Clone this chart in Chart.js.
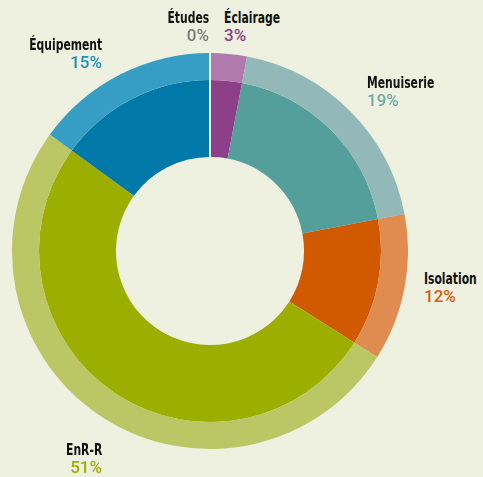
<!DOCTYPE html>
<html>
<head>
<meta charset="utf-8">
<script src="https://cdn.jsdelivr.net/npm/chart.js@4.4.0/dist/chart.umd.min.js"></script>
<style>
  body { margin:0; background:#eff1e0; width:483px; height:477px; overflow:hidden; position:relative; }
  #wrap { position:absolute; left:12px; top:53px; width:396px; height:396px; }
  .lbl { position:absolute; white-space:nowrap; }
  .lbl .nom { display:block; font-family:"DejaVu Sans Condensed","Liberation Sans Narrow",sans-serif; font-weight:bold; font-size:15px; line-height:17px; height:17px; color:#111; transform:scaleX(0.8); }
  .lbl .pct { display:block; font-family:Roboto,sans-serif; font-weight:500; font-size:17px; line-height:17px; height:17px; }
</style>
</head>
<body>
<div id="wrap"><canvas id="chartDepenses"></canvas></div>
<script>
// Données (sens horaire depuis le haut)
const categories = ['Éclairage', 'Menuiserie', 'Isolation', 'EnR-R', 'Équipement', 'Études'];
const pourcentages = [3, 19, 12, 51, 15, 0];

// Couleurs : anneau intérieur foncé, anneau extérieur clair
const couleursFoncees = ['#8e3f8a', '#549e9c', '#d15a00', '#9caf00', '#0078a8', '#808080'];
const couleursClaires = ['#b07aae', '#92b9b8', '#e08c50', '#bac764', '#369ec4', '#a0a0a0'];
const couleursTexte   = ['#8e3f8a', '#6fa9a8', '#d0600c', '#9caf00', '#1e8dc0', '#7a7a7a'];

// Position des étiquettes : [x, ligne de base du nom, alignement]
const posEtiquettes = [
  [224, 23, 'left'],
  [367, 88, 'left'],
  [424, 284, 'left'],
  [102, 455, 'right'],
  [102, 50, 'right'],
  [209, 23, 'right']
];

// Étiquettes HTML
categories.forEach((nom, i) => {
  const [x, base, align] = posEtiquettes[i];
  const div = document.createElement('div');
  div.className = 'lbl';
  div.style.top = (base - 13) + 'px';
  div.style.textAlign = align;
  if (align === 'left') div.style.left = x + 'px';
  else div.style.right = (483 - x) + 'px';
  div.innerHTML = '<span class="nom" style="transform-origin:' + align + ' center">' + nom + '</span>' +
    '<span class="pct" style="color:' + couleursTexte[i] + '">' + pourcentages[i] + '%</span>';
  document.body.appendChild(div);
});

// Trait blanc au départ de la part « Études » (0 %)
const traitEtudes = {
  id: 'traitEtudes',
  afterDatasetsDraw(chart) {
    const idx = categories.indexOf('Études');
    const ext = chart.getDatasetMeta(0).data[idx];
    const int = chart.getDatasetMeta(1).data[idx];
    if (!ext || !int) return;
    const a = ext.startAngle;
    const ctx = chart.ctx;
    ctx.save();
    ctx.strokeStyle = '#ffffff';
    ctx.lineWidth = 2;
    ctx.beginPath();
    ctx.moveTo(ext.x + Math.cos(a) * int.innerRadius, ext.y + Math.sin(a) * int.innerRadius);
    ctx.lineTo(ext.x + Math.cos(a) * ext.outerRadius, ext.y + Math.sin(a) * ext.outerRadius);
    ctx.stroke();
    ctx.restore();
  }
};

new Chart(document.getElementById('chartDepenses').getContext('2d'), {
  type: 'doughnut',
  data: {
    labels: categories,
    datasets: [
      { data: pourcentages, backgroundColor: couleursClaires, borderWidth: 0, weight: 27 },
      { data: pourcentages, backgroundColor: couleursFoncees, borderWidth: 0, weight: 77 }
    ]
  },
  options: {
    responsive: true,
    maintainAspectRatio: false,
    animation: false,
    cutout: '47.5%',
    layout: { padding: 0 },
    plugins: { legend: { display: false }, tooltip: { enabled: false } }
  },
  plugins: [traitEtudes]
});
</script>
</body>
</html>
